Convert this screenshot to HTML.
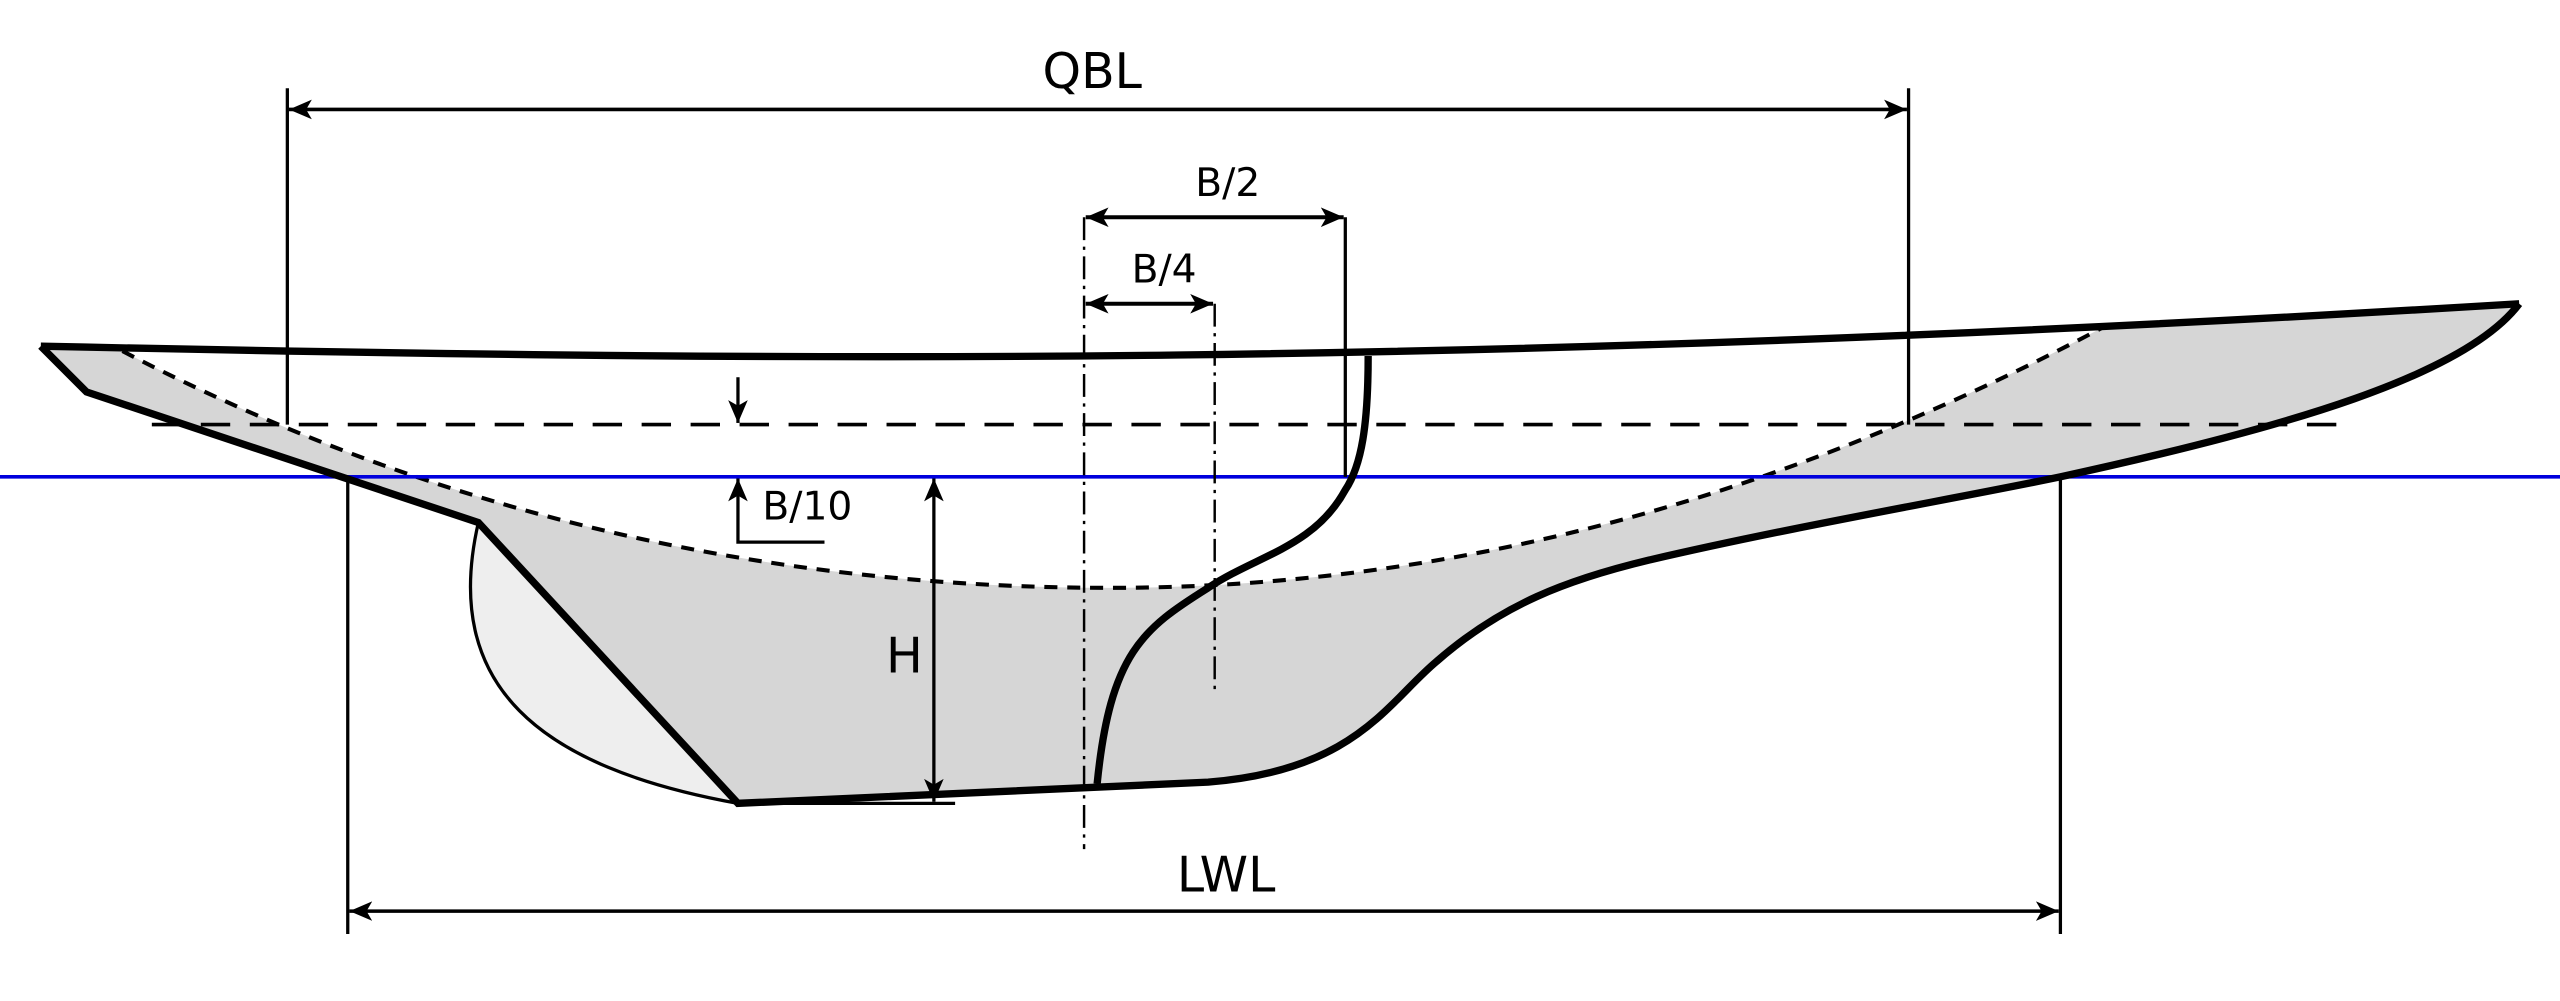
<!DOCTYPE html>
<html><head><style>html,body{margin:0;padding:0;background:#fff}svg{display:block}</style></head><body>
<svg width="2560" height="1001" viewBox="0 0 1568 613" xmlns="http://www.w3.org/2000/svg" font-family="DejaVu Sans, Liberation Sans, sans-serif">
<defs>
<marker id="a" viewBox="0 0 14 12" refX="14" refY="6" markerWidth="14" markerHeight="12" markerUnits="userSpaceOnUse" orient="auto-start-reverse"><path d="M0,0 L14,6 L0,12 L3.5,6 Z" fill="#000"/></marker>
</defs>
<rect width="1568" height="613" fill="#fff"/>
<path d="M25,212 L75,215 C200,280 400,360 680,360 C900,360 1100,300 1287,201 L1543,186 C1510,230 1400,262 1262,292 C1200,305 1100,322 1010,343 C960,355 920,370 880,405 C850,430 830,472 740,479 L452,492 L293,320 L53,240 Z" fill="#d6d6d6"/>
<path d="M293,320 C270,420 330,470 452,492 Z" fill="#eeeeee" stroke="#000" stroke-width="2"/>
<path d="M75,215 C200,280 400,360 680,360 C900,360 1100,300 1287,201" fill="none" stroke="#000" stroke-width="2.5" stroke-dasharray="8,6"/>
<line x1="93" y1="260" x2="1432" y2="260" stroke="#000" stroke-width="2.2" stroke-dasharray="18,12"/>
<line x1="0" y1="292" x2="1568" y2="292" stroke="#0000dd" stroke-width="2.2"/>
<path d="M25,212 L53,240 L293,320 L452,492 L740,479 C830,472 850,430 880,405 C920,370 960,355 1010,343 C1100,322 1200,305 1262,292 C1400,262 1510,230 1543,186" fill="none" stroke="#000" stroke-width="4.5" stroke-linejoin="miter"/>
<path d="M25,212 C500,222 900,225 1543,186" fill="none" stroke="#000" stroke-width="4.5"/>
<path d="M838,218 C838,260 834,285 824,300 C805,335 770,340 740,360 C700,385 680,400 672,480" fill="none" stroke="#000" stroke-width="4.5"/>
<line x1="176" y1="54" x2="176" y2="260" stroke="#000" stroke-width="2"/>
<line x1="1169" y1="54" x2="1169" y2="260" stroke="#000" stroke-width="2"/>
<line x1="177" y1="67" x2="1168" y2="67" stroke="#000" stroke-width="2.2" marker-start="url(#a)" marker-end="url(#a)"/>
<text x="669" y="54" font-size="30" text-anchor="middle">QBL</text>
<line x1="213" y1="292" x2="213" y2="572" stroke="#000" stroke-width="2"/>
<line x1="1262" y1="292" x2="1262" y2="572" stroke="#000" stroke-width="2"/>
<line x1="214" y1="558" x2="1261" y2="558" stroke="#000" stroke-width="2.2" marker-start="url(#a)" marker-end="url(#a)"/>
<text x="751" y="546" font-size="30" text-anchor="middle">LWL</text>
<line x1="664" y1="133" x2="664" y2="520" stroke="#000" stroke-width="1.5" stroke-dasharray="14,4,2,4"/>
<line x1="744" y1="186" x2="744" y2="422" stroke="#000" stroke-width="1.5" stroke-dasharray="14,4,2,4"/>
<line x1="824" y1="133" x2="824" y2="292" stroke="#000" stroke-width="2"/>
<line x1="665" y1="133" x2="823" y2="133" stroke="#000" stroke-width="2.5" marker-start="url(#a)" marker-end="url(#a)"/>
<text x="752" y="120" font-size="24" text-anchor="middle">B/2</text>
<line x1="665" y1="186" x2="743" y2="186" stroke="#000" stroke-width="2.5" marker-start="url(#a)" marker-end="url(#a)"/>
<text x="713" y="173" font-size="24" text-anchor="middle">B/4</text>
<line x1="452" y1="231" x2="452" y2="259" stroke="#000" stroke-width="2" marker-end="url(#a)"/>
<polyline points="505,332 452,332 452,293" fill="none" stroke="#000" stroke-width="2" marker-end="url(#a)"/>
<text x="467" y="318" font-size="24">B/10</text>
<line x1="572" y1="293" x2="572" y2="491" stroke="#000" stroke-width="2" marker-start="url(#a)" marker-end="url(#a)"/>
<line x1="452" y1="492" x2="585" y2="492" stroke="#000" stroke-width="2"/>
<text x="554" y="412" font-size="30" text-anchor="middle">H</text>
</svg>
</body></html>
